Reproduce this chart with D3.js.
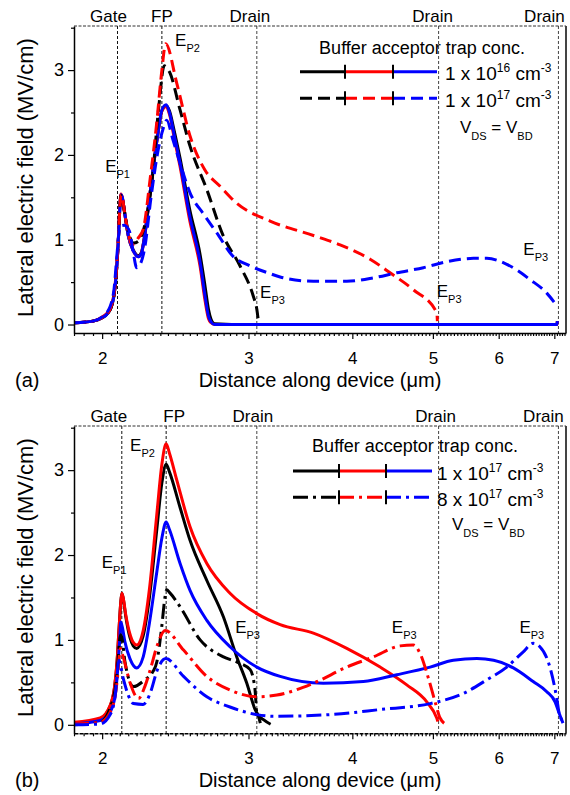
<!DOCTYPE html>
<html>
<head>
<meta charset="utf-8">
<script src="https://cdn.jsdelivr.net/npm/d3@7"></script>
<style>
  body { margin: 0; background: #fff; }
  svg { display: block; font-family: Arial, "Liberation Sans", sans-serif; }
</style>
</head>
<body>
<div id="vis"></div>
<script>
// ---- axis / markers ----
const xTickValues = [2, 3, 4, 5, 6, 7];
const yTickValues = [0, 1, 2, 3];
const yMinorValues = [0.5, 1.5, 2.5, 3.5];
const markerNames = ["Gate", "FP", "Drain", "Drain", "Drain"];
const markersA = [2.087, 2.36, 3.07, 5.08, 7.08];
const markersB = [2.112, 2.388, 3.07, 5.08, 7.08];

// ---- panel (a): 1e16 (solid) ----
const a16X = [1.85, 1.95, 2.0, 2.03, 2.05, 2.065, 2.08, 2.092, 2.1, 2.107, 2.115, 2.13, 2.15, 2.18, 2.212, 2.23, 2.245, 2.284, 2.33, 2.36, 2.388, 2.41, 2.44, 2.482, 2.55, 2.624, 2.66, 2.685, 2.705, 2.73, 3.0, 4.0, 5.0, 6.0, 7.0, 7.05, 7.06];
const a16BlackY = [0.02, 0.04, 0.08, 0.13, 0.2, 0.32, 0.6, 1.0, 1.35, 1.52, 1.49, 1.3, 1.05, 0.88, 0.81, 0.85, 0.99, 1.55, 2.2, 2.52, 2.58, 2.52, 2.3, 1.96, 1.35, 0.82, 0.45, 0.18, 0.06, 0.01, 0, 0, 0, 0, 0, 0, 0.04];
const a16RedY = [0.02, 0.04, 0.09, 0.14, 0.22, 0.34, 0.62, 1.02, 1.37, 1.54, 1.5, 1.3, 1.05, 0.87, 0.8, 0.84, 0.98, 1.55, 2.2, 2.52, 2.57, 2.48, 2.22, 1.86, 1.22, 0.68, 0.28, 0.07, 0.02, 0, 0, 0, 0, 0, 0, 0, 0.04];
const a16BlueY = [0.02, 0.04, 0.08, 0.13, 0.2, 0.32, 0.6, 1.0, 1.35, 1.53, 1.5, 1.3, 1.05, 0.87, 0.8, 0.84, 0.98, 1.55, 2.2, 2.53, 2.59, 2.5, 2.25, 1.9, 1.27, 0.73, 0.33, 0.1, 0.03, 0, 0, 0, 0, 0, 0, 0, 0.04];

// ---- panel (a): 1e17 (dashed) ----
const a17BlackX = [1.85, 1.95, 2.0, 2.03, 2.05, 2.065, 2.08, 2.092, 2.1, 2.107, 2.115, 2.13, 2.15, 2.181, 2.21, 2.24, 2.27, 2.295, 2.34, 2.375, 2.41, 2.482, 2.552, 2.673, 2.799, 2.931, 3.041, 3.07, 3.085];
const a17BlackY = [0.02, 0.04, 0.08, 0.13, 0.2, 0.32, 0.6, 1.0, 1.35, 1.52, 1.48, 1.3, 1.1, 0.96, 0.98, 1.1, 1.35, 1.67, 2.57, 3.05, 2.98, 2.53, 2.1, 1.59, 1.04, 0.69, 0.33, 0.18, 0.02];
const a17RedX = [1.85, 1.95, 2.0, 2.03, 2.05, 2.065, 2.08, 2.092, 2.1, 2.107, 2.115, 2.13, 2.15, 2.172, 2.21, 2.241, 2.284, 2.326, 2.36, 2.385, 2.46, 2.552, 2.66, 2.773, 2.904, 3.185, 3.591, 3.867, 4.202, 4.441, 4.737, 5.054, 5.063];
const a17RedY = [0.02, 0.04, 0.08, 0.13, 0.21, 0.33, 0.62, 1.0, 1.35, 1.53, 1.5, 1.3, 1.08, 0.94, 1.02, 1.12, 1.71, 2.37, 3.0, 3.31, 2.84, 2.22, 1.82, 1.63, 1.43, 1.22, 1.05, 0.94, 0.77, 0.61, 0.41, 0.14, 0.04];
const a17BlueX = [1.85, 1.95, 2.026, 2.064, 2.083, 2.095, 2.103, 2.125, 2.157, 2.18, 2.201, 2.225, 2.25, 2.29, 2.33, 2.37, 2.392, 2.43, 2.482, 2.552, 2.65, 2.748, 2.877, 3.0, 3.185, 3.275, 3.591, 3.939, 4.24, 4.524, 4.87, 5.196, 5.594, 5.806, 6.136, 6.545, 6.855, 7.014];
const a17BlueY = [0.02, 0.04, 0.14, 0.37, 0.8, 1.08, 1.16, 1.17, 1.1, 0.85, 0.67, 0.72, 0.9, 1.5, 2.0, 2.32, 2.41, 2.2, 1.9, 1.55, 1.3, 1.08, 0.8, 0.7, 0.6, 0.56, 0.51, 0.51, 0.55, 0.61, 0.67, 0.74, 0.78, 0.78, 0.71, 0.53, 0.37, 0.25];

// ---- panel (b): 1e17 (solid) ----
const b17RedX = [1.85, 1.989, 2.045, 2.07, 2.084, 2.095, 2.105, 2.112, 2.12, 2.135, 2.16, 2.18, 2.201, 2.241, 2.28, 2.327, 2.36, 2.388, 2.41, 2.46, 2.552, 2.673, 2.85, 3.07, 3.275, 3.591, 3.939, 4.32, 4.651, 4.916, 5.054, 5.07];
const b17RedY = [0.03, 0.08, 0.23, 0.45, 0.74, 1.1, 1.42, 1.55, 1.5, 1.3, 1.07, 0.97, 0.94, 1.11, 1.6, 2.48, 3.07, 3.31, 3.2, 2.88, 2.33, 1.9, 1.55, 1.31, 1.18, 1.08, 0.9, 0.68, 0.47, 0.27, 0.08, 0.04];
const b17BlackX = [1.85, 1.989, 2.045, 2.07, 2.084, 2.095, 2.105, 2.112, 2.12, 2.135, 2.16, 2.18, 2.201, 2.241, 2.28, 2.327, 2.36, 2.388, 2.41, 2.482, 2.552, 2.673, 2.799, 2.904, 2.986, 3.055, 3.084, 3.1];
const b17BlackY = [0.02, 0.07, 0.22, 0.44, 0.73, 1.1, 1.42, 1.55, 1.49, 1.28, 1.03, 0.93, 0.9, 1.05, 1.5, 2.3, 2.85, 3.07, 2.98, 2.56, 2.17, 1.7, 1.27, 0.8, 0.49, 0.18, 0.1, 0.02];
const b17BlueX = [1.85, 1.989, 2.045, 2.074, 2.09, 2.1, 2.106, 2.115, 2.13, 2.16, 2.201, 2.241, 2.28, 2.327, 2.36, 2.388, 2.41, 2.482, 2.552, 2.673, 2.85, 3.07, 3.275, 3.691, 4.124, 4.524, 4.962, 5.292, 5.648, 5.916, 6.249, 6.601, 6.855, 7.014, 7.08, 7.17];
const b17BlueY = [0.01, 0.05, 0.15, 0.35, 0.7, 1.0, 1.21, 1.15, 0.98, 0.78, 0.67, 0.8, 1.2, 1.8, 2.2, 2.39, 2.3, 1.9, 1.58, 1.23, 0.92, 0.68, 0.57, 0.49, 0.51, 0.59, 0.68, 0.76, 0.78, 0.76, 0.67, 0.51, 0.39, 0.27, 0.16, 0.02];

// ---- panel (b): 8e17 (dash-dot) ----
const b8BlackX = [1.85, 1.989, 2.045, 2.084, 2.097, 2.105, 2.115, 2.13, 2.181, 2.251, 2.3, 2.327, 2.36, 2.38, 2.392, 2.41, 2.482, 2.624, 2.799, 2.904, 3.014, 3.055, 3.07, 3.127, 3.2];
const b8BlackY = [0, 0.03, 0.2, 0.59, 0.95, 1.06, 1.0, 0.75, 0.45, 0.53, 0.62, 0.74, 1.17, 1.5, 1.59, 1.56, 1.39, 1.0, 0.8, 0.74, 0.65, 0.41, 0.14, 0.06, 0];
const b8RedX = [1.85, 1.989, 2.045, 2.084, 2.097, 2.103, 2.12, 2.16, 2.212, 2.251, 2.29, 2.327, 2.382, 2.506, 2.673, 2.85, 3.07, 3.246, 3.591, 3.939, 4.24, 4.566, 4.737, 4.826, 4.938, 5.031, 5.101, 5.196];
const b8RedY = [0.01, 0.03, 0.15, 0.5, 0.8, 0.9, 0.8, 0.5, 0.31, 0.45, 0.68, 0.92, 1.11, 0.88, 0.57, 0.41, 0.33, 0.35, 0.49, 0.68, 0.8, 0.93, 0.94, 0.84, 0.55, 0.27, 0.08, 0];
const b8BlueX = [1.85, 1.989, 2.045, 2.074, 2.086, 2.095, 2.12, 2.15, 2.181, 2.241, 2.29, 2.327, 2.386, 2.506, 2.673, 2.85, 3.07, 3.215, 3.76, 4.32, 4.962, 5.442, 5.806, 6.136, 6.423, 6.601, 6.725, 6.919, 7.048, 7.1, 7.21];
const b8BlueY = [0, 0.01, 0.12, 0.35, 0.62, 0.76, 0.55, 0.35, 0.25, 0.24, 0.4, 0.63, 0.78, 0.57, 0.33, 0.21, 0.12, 0.1, 0.12, 0.18, 0.25, 0.37, 0.53, 0.68, 0.86, 0.96, 0.92, 0.67, 0.31, 0.12, 0.02];

// ---- legend / annotation text ----
const legendTitle = "Buffer acceptor trap conc.";
const legendA = [{ m: "1 x 10", e: "16" }, { m: "1 x 10", e: "17" }];
const legendB = [{ m: "1 x 10", e: "17" }, { m: "8 x 10", e: "17" }];
const annotationsA = [["P1", 2.017, 1.8], ["P2", 2.448, 3.29], ["P3", 3.098, 0.31], ["P3", 5.054, 0.33], ["P3", 6.424, 0.82]];
const annotationsB = [["P1", 1.998, 1.85], ["P2", 2.161, 3.23], ["P3", 2.891, 1.08], ["P3", 4.462, 1.08], ["P3", 6.354, 1.08]];

const W = 570, H = 795;
const BLACK = "#000", RED = "#ff0000", BLUE = "#0000ff";
const DASH = "12,6", DASHDOT = "15,5,3,5";

const svg = d3.select("#vis").append("svg").attr("width", W).attr("height", H);

const x = d3.scaleLog().domain([1.85, 7.23]).range([74, 566]);
const xMinor = d3.range(37, 145).map(k => k * 0.05).filter(v => v >= 1.85 && v <= 7.23 && Math.abs(v - Math.round(v)) > 1e-6);

const zip = (xs, ys) => xs.map((v, i) => [v, ys[i]]);

function drawPanel(p) {
  const y = d3.scaleLinear().domain([-0.1, 3.52]).range([p.bottom, p.top]);
  const g = svg.append("g");

  const clipId = "clip" + p.tag;
  svg.append("clipPath").attr("id", clipId).append("rect")
    .attr("x", 74).attr("y", p.top).attr("width", 492).attr("height", p.bottom - p.top);

  // vertical markers
  g.selectAll(".marker").data(p.markers).join("line")
    .attr("x1", d => x(d)).attr("x2", d => x(d))
    .attr("y1", p.top).attr("y2", p.bottom)
    .attr("stroke", (d, i) => i < 2 ? "#111" : "#444")
    .attr("stroke-width", 1).attr("stroke-dasharray", "3,2");

  g.selectAll(".mlabel").data(p.markers).join("text")
    .attr("x", (d, i) => x(d) + p.labelShift[i]).attr("y", p.top - 4.5)
    .attr("text-anchor", "middle").style("font-size", "17px")
    .text((d, i) => markerNames[i]);

  // frame: dashed top, solid right
  g.append("line").attr("x1", 74).attr("x2", 566).attr("y1", p.top).attr("y2", p.top)
    .attr("stroke", "#333").attr("stroke-width", 1).attr("stroke-dasharray", "3,1.5");
  g.append("line").attr("x1", 566).attr("x2", 566).attr("y1", p.top).attr("y2", p.bottom)
    .attr("stroke", "#444").attr("stroke-width", 2);

  // curves
  const line = d3.line().x(d => x(d[0])).y(d => y(d[1])).curve(d3.curveMonotoneX);
  g.append("g").attr("clip-path", `url(#${clipId})`)
    .selectAll("path").data(p.series).join("path")
    .attr("d", s => line(zip(s.xs, s.ys)))
    .attr("fill", "none").attr("stroke", s => s.color)
    .attr("stroke-width", 3).attr("stroke-dasharray", s => s.dash)
    .attr("stroke-linejoin", "round");

  // axes
  const xa = g.append("g").attr("transform", `translate(0,${p.bottom})`)
    .call(d3.axisBottom(x).tickValues(xTickValues).tickFormat(d3.format("d")).tickSize(6).tickSizeOuter(0));
  g.append("g").attr("transform", `translate(0,${p.bottom})`)
    .call(d3.axisBottom(x).tickValues(xMinor).tickFormat("").tickSize(3).tickSizeOuter(0))
    .select(".domain").remove();
  xa.selectAll("text").attr("y", 19).style("font-size", "17px").attr("fill", "#000");
  xa.select(".domain").attr("stroke-width", 1.5).attr("stroke-dasharray", p.bottomDash);

  const ya = g.append("g").attr("transform", "translate(74,0)")
    .call(d3.axisLeft(y).tickValues(yTickValues).tickFormat(d3.format("d")).tickSize(6).tickSizeOuter(0));
  g.append("g").attr("transform", "translate(74,0)")
    .call(d3.axisLeft(y).tickValues(yMinorValues).tickFormat("").tickSize(3).tickSizeOuter(0))
    .select(".domain").remove();
  ya.selectAll("text").attr("x", -10).style("font-size", "18px").attr("fill", "#000");
  ya.select(".domain").attr("stroke-width", 1.5);
  g.selectAll(".tick line").attr("stroke-width", 1.2);

  // titles
  g.append("text").attr("x", 320).attr("y", p.bottom + 54).attr("text-anchor", "middle")
    .style("font-size", "20px").text("Distance along device (\u03bcm)");
  g.append("text").attr("x", 15).attr("y", p.bottom + 54)
    .style("font-size", "20px").text(p.tag === "a" ? "(a)" : "(b)");
  g.append("text").attr("transform", `translate(33,${(p.top + p.bottom) / 2 - 2}) rotate(-90)`)
    .attr("text-anchor", "middle").style("font-size", "22px")
    .text("Lateral electric field (MV/cm)");

  // annotations E_Pn
  p.annotations.forEach(([sub, ax, ay]) => {
    const t = g.append("text").attr("x", x(ax)).attr("y", y(ay)).style("font-size", "17px");
    t.append("tspan").text("E");
    t.append("tspan").attr("dy", 6).style("font-size", "11px").text(sub);
  });

  // legend
  const L = p.legend;
  g.append("text").attr("x", L.cx).attr("y", L.titleY).attr("text-anchor", "middle")
    .style("font-size", "18px").text(legendTitle);
  const colors = [BLACK, RED, BLUE];
  p.legendRows.forEach((row, r) => {
    const ly = L.rowY[r];
    colors.forEach((c, k) => {
      g.append("line").attr("x1", L.segX[k]).attr("x2", L.segX[k + 1])
        .attr("y1", ly).attr("y2", ly).attr("stroke", c).attr("stroke-width", 3)
        .attr("stroke-dasharray", r === 0 ? null : p.dash2);
    });
    [L.segX[1], L.segX[2]].forEach(sx => {
      g.append("line").attr("x1", sx).attr("x2", sx).attr("y1", ly - 7).attr("y2", ly + 7)
        .attr("stroke", "#000").attr("stroke-width", 2);
    });
    const t = g.append("text").attr("x", L.textX).attr("y", ly + 8.5).style("font-size", "19px");
    t.append("tspan").text(row.m);
    t.append("tspan").attr("dy", -8).style("font-size", "12px").text(row.e);
    t.append("tspan").attr("dy", 8).text(" cm");
    t.append("tspan").attr("dy", -8).style("font-size", "12px").text("-3");
  });
  const v = g.append("text").attr("x", L.vX).attr("y", L.vY).style("font-size", "17px");
  v.append("tspan").text("V");
  v.append("tspan").attr("dy", 7).style("font-size", "11px").text("DS");
  v.append("tspan").attr("dy", -7).text(" = V");
  v.append("tspan").attr("dy", 7).style("font-size", "11px").text("BD");
}

drawPanel({
  tag: "a", top: 26, bottom: 333, markers: markersA,
  labelShift: [-9, 0, -7, -6, -14], bottomDash: null,
  series: [
    { xs: a16X, ys: a16BlackY, color: BLACK, dash: null },
    { xs: a16X, ys: a16RedY, color: RED, dash: null },
    { xs: a16X, ys: a16BlueY, color: BLUE, dash: null },
    { xs: a17BlackX, ys: a17BlackY, color: BLACK, dash: DASH },
    { xs: a17RedX, ys: a17RedY, color: RED, dash: DASH },
    { xs: a17BlueX, ys: a17BlueY, color: BLUE, dash: DASH }
  ],
  annotations: annotationsA,
  legendRows: legendA, dash2: DASH,
  legend: { cx: 422, titleY: 54, rowY: [71.7, 98.3], segX: [300, 345, 393, 437], textX: 445, vX: 460, vY: 133 }
});

drawPanel({
  tag: "b", top: 426, bottom: 733.3, markers: markersB,
  labelShift: [-13, 8, -4, -3, -15], bottomDash: "4,1",
  series: [
    { xs: b17BlackX, ys: b17BlackY, color: BLACK, dash: null },
    { xs: b17RedX, ys: b17RedY, color: RED, dash: null },
    { xs: b17BlueX, ys: b17BlueY, color: BLUE, dash: null },
    { xs: b8BlackX, ys: b8BlackY, color: BLACK, dash: DASHDOT },
    { xs: b8RedX, ys: b8RedY, color: RED, dash: DASHDOT },
    { xs: b8BlueX, ys: b8BlueY, color: BLUE, dash: DASHDOT }
  ],
  annotations: annotationsB,
  legendRows: legendB, dash2: DASHDOT,
  legend: { cx: 415, titleY: 451.7, rowY: [471, 497.3], segX: [293, 339, 386, 432], textX: 437, vX: 452, vY: 530 }
});
</script>
</body>
</html>
